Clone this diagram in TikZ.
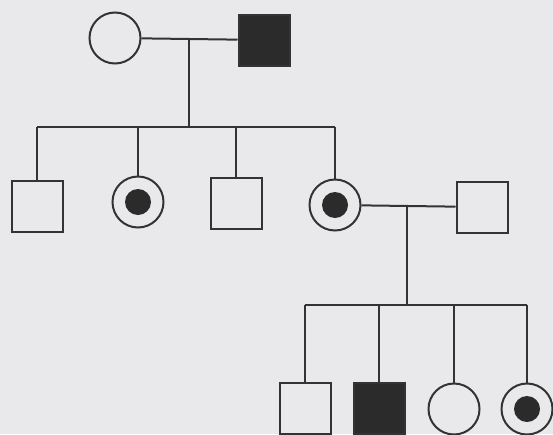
\documentclass[tikz,border=0pt]{standalone}
\definecolor{bg}{HTML}{E9E9EB}
\definecolor{ink}{HTML}{333333}
\definecolor{solid}{HTML}{2B2B2B}
\tikzset{
  ln/.style={draw=ink, line width=2pt},
  male/.style={rectangle, ln, fill=bg, minimum size=51pt, inner sep=0pt},
  amale/.style={male, fill=solid},
  female/.style={circle, ln, fill=bg, minimum size=51pt, inner sep=0pt},
  dotmark/.style={circle, fill=solid, minimum size=26pt, inner sep=0pt},
}
\begin{document}
\begin{tikzpicture}[x=1pt,y=-1pt]
  \useasboundingbox[fill=bg] (0,0) rectangle (553,434);
  % generation I
  \node[female] (f1) at (115,38) {};
  \node[amale]  (m1) at (264,40) {};
  \coordinate (c1) at (189,38);
  % generation II
  \node[male]    (a2) at (37,206) {};
  \node[female]  (b2) at (138,202) {};
  \node[dotmark] (b2d) at (b2) {};
  \node[male]    (c2) at (236,203) {};
  \node[female]  (d2) at (335,205) {};
  \node[dotmark] (d2d) at (d2) {};
  \node[male]    (e2) at (482,207) {};
  \coordinate (sL) at (37,127);
  \coordinate (sR) at (335,127);
  \coordinate (c2m) at (407,205);
  % generation III
  \node[male]    (a3) at (305,408) {};
  \node[amale]   (b3) at (379,408) {};
  \node[female]  (c3) at (454,409) {};
  \node[female]  (d3) at (527,409) {};
  \node[dotmark] (d3d) at (d3) {};
  \coordinate (tL) at (305,305);
  \coordinate (tR) at (527,305);
  % connectors
  \draw[ln] (f1) -- (m1);
  \draw[ln] (c1 |- f1.east) -- (sL -| c1);
  \draw[ln] (sL) -- (sR);
  \foreach \n in {a2,b2,c2,d2} \draw[ln] (\n.north) -- (\n.north |- sL);
  \draw[ln] (d2) -- (e2);
  \draw[ln] (c2m) -- (tL -| c2m);
  \draw[ln] (tL) -- (tR);
  \foreach \n in {a3,b3,c3,d3} \draw[ln] (\n.north) -- (\n.north |- tL);
\end{tikzpicture}
\end{document}
